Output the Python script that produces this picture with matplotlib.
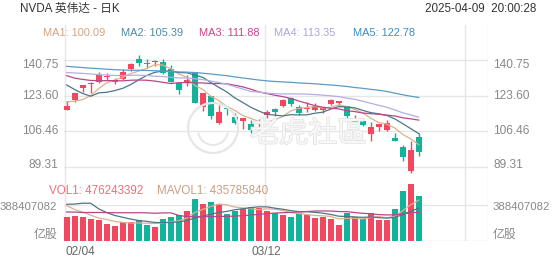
import matplotlib
matplotlib.use("Agg")
import matplotlib.pyplot as plt
from matplotlib.patches import Rectangle, Ellipse, Arc
import matplotlib.patheffects as pe
import numpy as np

plt.rcParams["font.family"] = ["Liberation Sans", "Noto Sans CJK SC", "DejaVu Sans"]

# NVDA 日K 2025-02-04 .. 2025-04-08
opens = [116.96, 121.76, 127.42, 129.22, 130.09, 132.58, 130.02, 131.56, 136.48, 141.27,
         139.51, 140.03, 140.04, 136.56, 129.98, 129.99, 135.00, 118.02, 123.51, 110.65,
         117.58, 113.53, 111.25, 109.90, 106.99, 114.12, 117.03, 118.61, 122.74, 118.00,
         117.27, 116.55, 116.89, 119.88, 120.55, 118.73, 111.35, 111.49, 105.13, 108.52,
         107.29, 103.51, 98.91, 87.46, 103.81]
highs = [121.20, 125.00, 128.77, 130.37, 135.00, 134.48, 132.24, 136.50, 139.25, 143.44,
         141.36, 140.67, 141.46, 138.59, 130.20, 133.73, 135.01, 125.09, 123.70, 119.31,
         118.28, 115.35, 113.00, 111.85, 112.23, 116.77, 117.76, 121.89, 122.90, 119.02,
         120.45, 120.32, 117.99, 122.22, 121.29, 118.84, 114.45, 112.87, 110.96, 110.20,
         111.98, 105.63, 100.13, 101.75, 105.85]
lows = [116.70, 120.76, 125.21, 125.00, 129.96, 131.02, 129.08, 131.17, 135.50, 137.93,
        137.22, 137.78, 134.03, 130.08, 124.44, 128.49, 120.01, 116.40, 112.28, 110.11,
        114.51, 110.22, 107.56, 105.46, 104.77, 112.88, 113.79, 118.15, 118.48, 114.54,
        115.63, 116.06, 115.36, 119.20, 118.92, 112.70, 110.66, 109.07, 101.81, 106.47,
        106.79, 101.60, 92.11, 86.62, 94.46]
closes = [118.65, 124.83, 128.68, 129.84, 133.57, 132.80, 131.14, 135.29, 138.85, 139.40,
          139.23, 140.11, 134.43, 130.28, 126.63, 131.28, 120.15, 124.92, 114.06, 115.99,
          117.30, 110.57, 112.69, 106.98, 108.76, 115.74, 115.58, 121.67, 119.53, 115.43,
          117.52, 118.53, 117.70, 121.41, 120.69, 113.76, 111.43, 109.67, 108.38, 110.15,
          110.42, 101.80, 94.31, 97.64, 96.30]
volumes = [256.55, 262.23, 251.48, 228.19, 216.99, 178.90, 160.28, 197.43, 195.48, 219.18,
           167.54, 143.90, 228.22, 251.38, 271.43, 322.55, 443.18, 389.09, 411.38, 398.16,
           284.34, 321.18, 341.76, 366.49, 354.87, 323.86, 299.03, 277.59, 255.50, 299.69,
           273.43, 248.83, 254.73, 228.45, 167.05, 293.46, 254.71, 229.87, 299.21, 222.61,
           220.60, 338.77, 532.27, 611.04, 476.24]  # 百万股

# 均线 MA1..MA5 (5/10/20/30/60日)
ma1 = [120.7, 121.0, 121.8, 123.7, 127.1, 129.9, 131.2, 132.5, 134.3, 135.5,
       136.8, 138.6, 138.4, 136.7, 134.1, 132.5, 128.6, 126.7, 123.4, 121.3,
       118.5, 116.6, 114.1, 112.7, 111.3, 110.9, 112.0, 113.7, 116.3, 117.6,
       117.9, 118.5, 117.7, 118.1, 119.2, 118.4, 117.0, 115.4, 112.8, 110.7,
       110.0, 108.1, 105.0, 102.9, 100.1]
ma2 = [128.8, 126.6, 124.7, 123.4, 125.0, 125.3, 126.1, 127.2, 129.0, 131.3,
       133.4, 134.9, 135.5, 135.5, 134.8, 134.7, 133.6, 132.5, 130.0, 127.7,
       125.5, 122.6, 120.4, 118.1, 116.3, 114.7, 114.3, 113.9, 114.5, 114.4,
       114.4, 115.2, 115.7, 117.2, 118.4, 118.2, 117.8, 116.6, 115.5, 114.9,
       114.2, 112.5, 110.2, 107.8, 105.4]
ma3 = [133.3, 132.1, 131.5, 131.0, 130.9, 130.9, 130.9, 130.8, 131.1, 131.2,
       131.1, 130.7, 130.1, 129.5, 129.9, 130.0, 129.8, 129.8, 129.5, 129.5,
       129.4, 128.7, 127.9, 126.8, 125.5, 124.7, 123.9, 123.2, 122.3, 121.1,
       120.0, 118.9, 118.1, 117.6, 117.3, 116.4, 116.0, 115.3, 115.0, 114.7,
       114.3, 113.9, 113.0, 112.5, 111.9]
ma4 = [134.8, 134.6, 134.4, 134.1, 133.8, 133.6, 133.4, 133.3, 133.5, 133.5,
       133.4, 133.0, 132.9, 132.5, 132.2, 132.2, 131.8, 131.4, 130.7, 130.0,
       129.2, 128.0, 126.9, 125.7, 125.4, 124.9, 124.6, 124.5, 124.5, 124.5,
       124.4, 124.2, 123.9, 123.6, 123.2, 122.5, 121.9, 121.0, 120.0, 119.0,
       118.1, 116.8, 115.4, 114.4, 113.3]
ma5 = [137.8, 137.5, 137.2, 136.9, 136.7, 136.4, 136.2, 136.0, 135.9, 135.9,
       135.8, 135.7, 135.5, 135.3, 135.1, 135.0, 134.8, 134.5, 134.1, 133.7,
       133.3, 132.7, 132.2, 131.7, 131.2, 130.8, 130.5, 130.3, 130.1, 129.8,
       129.6, 129.4, 129.1, 128.8, 128.5, 128.1, 127.6, 127.2, 126.7, 126.3,
       125.7, 124.9, 124.1, 123.4, 122.8]
ma_values = ["100.09", "105.39", "111.88", "113.35", "122.78"]

# 成交量均线 (5/10/20日, 百万股)
mavol1 = [375.6, 334.7, 306.4, 273.9, 243.1, 227.6, 207.2, 196.4, 189.8, 190.3,
          188.0, 184.7, 190.9, 202.0, 212.5, 243.5, 303.4, 335.5, 367.5, 392.9,
          385.2, 360.8, 351.4, 342.4, 333.7, 341.6, 337.2, 324.4, 302.2, 291.1,
          281.0, 271.0, 266.4, 261.0, 234.5, 238.5, 239.7, 234.7, 248.9, 260.0,
          245.4, 262.2, 322.7, 385.1, 435.8]
mavol2 = [390.5, 393.0, 402.5, 401.9, 341.7, 301.6, 270.9, 251.4, 231.9, 216.7,
          207.8, 195.9, 193.6, 195.9, 201.4, 215.7, 244.0, 263.2, 284.8, 302.7,
          314.4, 332.1, 343.4, 355.0, 363.3, 363.4, 349.0, 337.9, 322.3, 312.4,
          311.3, 304.1, 295.4, 281.6, 262.8, 259.8, 255.3, 250.6, 254.9, 247.2,
          242.0, 250.9, 278.7, 317.0, 347.9]
mavol3 = [307.5, 307.4, 302.4, 302.4, 302.9, 301.6, 299.8, 300.4, 299.7, 300.6,
          299.1, 294.4, 298.1, 298.9, 271.5, 258.7, 257.5, 257.3, 258.3, 259.7,
          261.1, 264.0, 268.5, 275.4, 282.3, 289.6, 296.5, 300.5, 303.5, 307.6,
          312.9, 318.1, 319.4, 318.3, 313.1, 311.6, 302.2, 294.2, 288.6, 279.8,
          276.6, 277.5, 287.1, 299.3, 305.3]

price_ticks = ["140.75", "123.60", "106.46", "89.31"]
vol_tick = 388.407082
vol_tick_label = "388407082"
date_labels = ["02/04", "03/12"]
date_index = [0, 25]

RED = "#f2485f"
GREEN = "#13b29b"
GRID = "#e6e6e6"
MA_COLORS = ["#dfb08f", "#4b7786", "#b8478a", "#b3aee4", "#5a9cc4"]
MA_LABEL_COLORS = ["#d3a381", "#4e8aa6", "#c4468a", "#aaa6dd", "#3f8cc3"]

W, H = 552, 265
fig = plt.figure(figsize=(W / 100, H / 100), dpi=100)


def box(x0, y0, x1, y1):
    return [x0 / W, 1 - y1 / H, (x1 - x0) / W, (y1 - y0) / H]


def fx(px):
    return px / W


def fy(py):
    return 1 - py / H


XL = (-0.34, 52.66)          # 8px 一根K线
YL = (83.05, 157.70)
n = len(closes)
x = np.arange(n)

# 竖向网格(贯穿两栏)
bg = fig.add_axes(box(64, 25, 488, 241))
bg.set_xlim(XL)
bg.set_ylim(0, 1)
bg.axis("off")
for vx in (-0.25, 24.75, 49.75):
    bg.axvline(vx, color=GRID, lw=1)
bg.axvline(XL[1] - 0.02, color=GRID, lw=1)

# K线栏
ax = fig.add_axes(box(64, 25, 488, 180))
ax.set_xlim(XL)
ax.set_ylim(YL)
ax.axis("off")
for t in price_ticks:
    ax.axhline(float(t), color=GRID, lw=1, zorder=0)

# 水印
fig.add_artist(Ellipse((fx(213), fy(128)), 50 / W, 50 / H, transform=fig.transFigure,
                       fill=False, ec="#e6e6e6", lw=1.6, zorder=1))
fig.add_artist(Arc((fx(213), fy(130)), 30 / W, 30 / H, theta1=200, theta2=340,
                   transform=fig.transFigure, ec="#e6e6e6", lw=1.4, zorder=1))
wm = fig.text(fx(308), fy(134), "老虎社區", fontsize=21, color="#f8f8f8",
              ha="center", va="center", family=["Noto Sans CJK TC", "Noto Sans CJK SC"],
              zorder=1)
wm.set_path_effects([pe.withStroke(linewidth=1.1, foreground="#e2e2e2")])

for i in range(n):
    col = RED if closes[i] >= opens[i] else GREEN
    ax.vlines(i, lows[i], highs[i], color=col, lw=1, zorder=2)
    lo, hi = sorted((opens[i], closes[i]))
    if hi - lo < 0.5:
        mid = (hi + lo) / 2
        lo, hi = mid - 0.25, mid + 0.25
    ax.add_patch(Rectangle((i - 0.35, lo), 0.7, hi - lo, fc=col, ec="none", zorder=2))

for m, c in zip([ma1, ma2, ma3, ma4, ma5], MA_COLORS):
    ax.plot(x, m, color=c, lw=0.9, zorder=3)

# 成交量栏
axv = fig.add_axes(box(64, 180, 488, 240.7))
axv.set_xlim(XL)
axv.set_ylim(0, 651.3)
axv.axis("off")
axv.axhline(vol_tick, color=GRID, lw=1, zorder=0)
axv.axhline(0.5, color=GRID, lw=1, zorder=0)
vcols = [RED if c >= o else GREEN for o, c in zip(opens, closes)]
axv.bar(x, volumes, width=0.7, color=vcols, zorder=2)
for m, c in zip([mavol1, mavol2, mavol3], ["#dfb08f", "#4b7786", "#b8478a"]):
    axv.plot(x, m, color=c, lw=0.9, zorder=3)

# 文字
TXT = "#333333"
AX_TXT = "#888888"
fig.text(fx(20.5), fy(9), "NVDA 英伟达 - 日K", fontsize=8.4, color=TXT, ha="left", va="center")
fig.text(fx(536), fy(9), "2025-04-09  20:00:28", fontsize=8.4, color=TXT, ha="right", va="center")

ma_x = [43.3, 120.7, 199, 274, 352.7]
for k, (px, v, c) in enumerate(zip(ma_x, ma_values, MA_LABEL_COLORS)):
    fig.text(fx(px), fy(33.5), f"MA{k + 1}: {v}", fontsize=7.9, color=c, ha="left", va="center")

offsets = [4.8, 0, 0, -2]
for lab, off in zip(price_ticks, offsets):
    py = 25 + (YL[1] - float(lab)) * 155 / (YL[1] - YL[0]) + off
    fig.text(fx(58), fy(py), lab, fontsize=8.6, color=AX_TXT, ha="right", va="center")
    fig.text(fx(493), fy(py), lab, fontsize=8.6, color=AX_TXT, ha="left", va="center")

fig.text(fx(49.3), fy(191), "VOL1: 476243392", fontsize=8.4, color="#ef6f7c",
         ha="left", va="center")
fig.text(fx(156.7), fy(191), "MAVOL1: 435785840", fontsize=8.4, color="#c9a083",
         ha="left", va="center")
for lab, py, fs in ((vol_tick_label, 207.3, 8.2), ("亿股", 235, 8.6)):
    fig.text(fx(57.3), fy(py), lab, fontsize=fs, color=AX_TXT, ha="right", va="center")
    fig.text(fx(493), fy(py), lab, fontsize=fs, color=AX_TXT, ha="left", va="center")

for lab, i in zip(date_labels, date_index):
    px = 64 + (i - XL[0]) * 8
    if i == 0:
        fig.text(fx(65), fy(252), lab, fontsize=8.6, color="#666666", ha="left", va="center")
    else:
        fig.text(fx(px), fy(252), lab, fontsize=8.6, color="#666666", ha="center", va="center")

fig.savefig("out.png", dpi=100)
